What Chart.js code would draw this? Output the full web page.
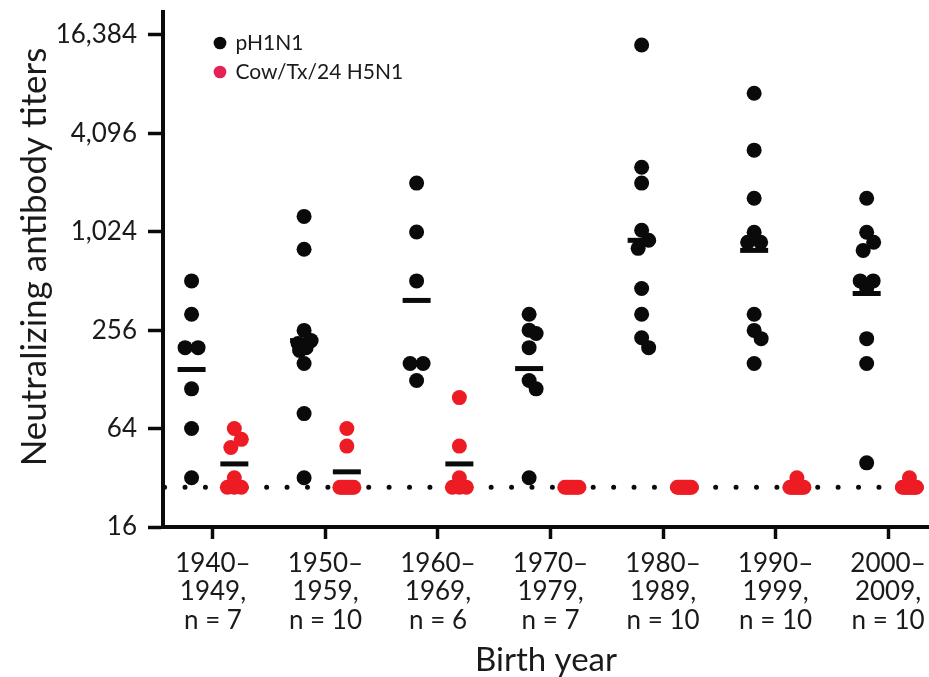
<!DOCTYPE html>
<html>
<head>
<meta charset="utf-8">
<script src="https://cdn.jsdelivr.net/npm/chart.js@4.4.1/dist/chart.umd.min.js"></script>
<style>
  html, body { margin: 0; padding: 0; background: #fff; }
  #wrap { width: 929px; height: 677px; }
</style>
</head>
<body>
<div id="wrap"><canvas id="titerChart"></canvas></div>
<script>
// birth-year cohorts, one entry per tick on the x axis
const cohortLabels = [
    ["1940–", "1949,", "n = 7"],
    ["1950–", "1959,", "n = 10"],
    ["1960–", "1969,", "n = 6"],
    ["1970–", "1979,", "n = 7"],
    ["1980–", "1989,", "n = 10"],
    ["1990–", "1999,", "n = 10"],
    ["2000–", "2009,", "n = 10"],
];
const yTicks = [16, 64, 256, 1024, 4096, 16384];
const detectionLimit = 28;

// individual neutralizing titers per cohort
const pH1N1Titers = [
    [512, 320, 200, 200, 112, 64, 32],
    [1270, 800, 255, 221, 212, 200, 192, 160, 79, 32],
    [2030, 1020, 512, 160, 160, 126],
    [320, 256, 244, 200, 126, 112, 32],
    [14200, 2540, 2030, 1045, 907, 810, 460, 320, 230, 200],
    [7200, 3230, 1640, 1016, 882, 882, 320, 255, 227, 160],
    [1640, 1016, 882, 787, 512, 512, 460, 227, 160, 39.5],
];
const h5N1Titers = [
    [64, 55, 49, 32, 28, 28, 28],
    [64, 50, 28, 28, 28, 28, 28, 28, 28, 28],
    [99, 50, 32, 28, 28, 28],
    [28, 28, 28, 28, 28, 28, 28],
    [28, 28, 28, 28, 28, 28, 28, 28, 28, 28],
    [32, 28, 28, 28, 28, 28, 28, 28, 28, 28],
    [32, 28, 28, 28, 28, 28, 28, 28, 28, 28],
];

// geometric mean titers (short black bars)
const pH1N1Gmt = [147, 221, 389, 149, 907, 787, 429];
const h5N1Gmt = [38.9, 34.8, 38.9, 28, 28, 28, 28];

const seriesNames = ["pH1N1", "Cow/Tx/24 H5N1"];
const seriesColors = ["#0a0a0a", "#ed1c24"];
const legendColors = ["#0a0a0a", "#e42354"];
const yAxisTitle = "Neutralizing antibody titers";

const X_MIN = -0.444;
const X_MAX = 6.364;
const SIDE_SHIFT = 0.19;   // each series sits either side of the cohort tick
const DOT_GAP = 13;        // px between neighbouring dot centres
const MAX_SPREAD = 7;      // px a dot may move sideways from its column
const INK = "#0a0a0a";
const TEXT = "#1a1a1a";
const FONT = "Lato, 'Noto Sans', sans-serif";

Chart.defaults.font.family = FONT;
Chart.defaults.color = TEXT;

// spread dots of similar value sideways so they do not sit on top of each other
function layoutSwarm(values, center, xScale, yScale) {
    const cx = xScale.getPixelForValue(center);
    const unit = xScale.getPixelForValue(center + 1) - cx;
    const placed = [];
    const rows = [...new Set(values)].sort((a, b) => b - a);
    rows.forEach((v) => {
        const count = values.filter((t) => t === v).length;
        const py = yScale.getPixelForValue(v);
        const step = count > 1 ? Math.min(DOT_GAP, (2 * MAX_SPREAD) / (count - 1)) : 0;
        const half = (step * (count - 1)) / 2;
        const room = Math.max(0, MAX_SPREAD - half);
        let best = 0;
        let bestScore = -1;
        for (let d = 0; d <= room; d += 0.5) {
            for (const c of d === 0 ? [0] : [d, -d]) {
                let score = Infinity;
                for (let j = 0; j < count; j++) {
                    const px = c - half + j * step;
                    placed.forEach((p) => {
                        score = Math.min(score, Math.hypot(px - p.dx, py - p.py));
                    });
                }
                if (score > bestScore + 0.01) {
                    best = c;
                    bestScore = score;
                }
            }
            if (bestScore >= DOT_GAP) break;
        }
        for (let j = 0; j < count; j++) {
            placed.push({ dx: best - half + j * step, py, v });
        }
    });
    return placed.map((p) => ({ x: center + p.dx / unit, y: p.v }));
}

function columnPoints(groups, side) {
    return groups.flatMap((vals, i) => vals.map((v) => ({ x: i + side, y: v })));
}

const gmtPoints = pH1N1Gmt
    .map((v, i) => ({ x: i - SIDE_SHIFT, y: v }))
    .concat(h5N1Gmt.map((v, i) => ({ x: i + SIDE_SHIFT, y: v })));

// the plot edges are fixed, so drop the room scales keep for edge labels
function noEdgePadding(scale) {
    scale.paddingTop = 0;
    scale.paddingBottom = 0;
    scale.paddingLeft = 0;
    scale.paddingRight = 0;
}

// move the legend inside the plot, near the top-left corner
const legendInset = {
    id: "legendInset",
    afterLayout(chart) {
        chart.legend.left += 44;
        chart.legend.top += 24.5;
    },
};

// rotated title for the y axis, sitting a little above the axis midpoint
const yTitle = {
    id: "yTitle",
    afterDraw(chart) {
        const c = chart.ctx;
        c.save();
        c.translate(46, 257);
        c.rotate(-Math.PI / 2);
        c.font = "35px " + FONT;
        c.fillStyle = TEXT;
        c.textAlign = "center";
        c.textBaseline = "alphabetic";
        c.fillText(yAxisTitle, 0, 0);
        c.restore();
    },
};

const ctx = document.getElementById("titerChart").getContext("2d");
const chart = new Chart(ctx, {
    type: "scatter",
    data: {
        datasets: [
            {
                label: seriesNames[0],
                data: columnPoints(pH1N1Titers, -SIDE_SHIFT),
                backgroundColor: seriesColors[0],
                borderWidth: 0,
                pointRadius: 7.5,
                pointStyle: "circle",
                order: 0,
            },
            {
                label: seriesNames[1],
                data: columnPoints(h5N1Titers, SIDE_SHIFT),
                backgroundColor: seriesColors[1],
                borderWidth: 0,
                pointRadius: 7.5,
                pointStyle: "circle",
                order: 1,
            },
            {
                label: "GMT",
                data: gmtPoints,
                pointStyle: "line",
                pointRadius: 14,
                borderColor: INK,
                pointBorderWidth: 5,
                order: 2,
            },
            {
                label: "Limit of detection",
                data: [
                    { x: X_MIN, y: detectionLimit },
                    { x: X_MAX, y: detectionLimit },
                ],
                showLine: true,
                pointRadius: 0,
                borderColor: INK,
                borderWidth: 5,
                borderDash: [0, 20.41],
                borderDashOffset: -1.6,
                borderCapStyle: "round",
                order: 3,
            },
        ],
    },
    options: {
        responsive: true,
        maintainAspectRatio: false,
        animation: false,
        events: [],
        layout: {
            autoPadding: false,
            padding: { top: 12, right: 0, bottom: 0, left: 0 },
        },
        plugins: {
            tooltip: { enabled: false },
            legend: {
                position: "chartArea",
                align: "start",
                labels: {
                    usePointStyle: true,
                    pointStyle: "circle",
                    boxWidth: 10,
                    boxHeight: 9,
                    padding: 8,
                    color: TEXT,
                    font: { size: 21 },
                    generateLabels: (c) =>
                        Chart.defaults.plugins.legend.labels
                            .generateLabels(c)
                            .filter((item) => item.datasetIndex < 2)
                            .map((item) => ({
                                ...item,
                                fillStyle: legendColors[item.datasetIndex],
                                lineWidth: 0,
                            })),
                },
            },
        },
        scales: {
            x: {
                type: "linear",
                min: X_MIN,
                max: X_MAX,
                afterBuildTicks: (scale) => {
                    scale.ticks = cohortLabels.map((_, i) => ({ value: i }));
                },
                afterFit: (scale) => {
                    scale.height = 150;
                    noEdgePadding(scale);
                },
                ticks: {
                    callback: (value) => cohortLabels[value],
                    autoSkip: false,
                    maxRotation: 0,
                    padding: 10,
                    color: TEXT,
                    font: { size: 26, lineHeight: 1.1 },
                },
                grid: {
                    drawOnChartArea: false,
                    tickLength: 12,
                    tickWidth: 3.5,
                    tickColor: INK,
                },
                border: { width: 4, color: INK },
                title: {
                    display: true,
                    text: "Birth year",
                    color: TEXT,
                    font: { size: 33, lineHeight: 1 },
                    padding: { top: 0, bottom: 0 },
                },
            },
            y: {
                type: "logarithmic",
                min: 16,
                max: 22600,
                bounds: "data",
                afterBuildTicks: (scale) => {
                    scale.ticks = yTicks.map((v) => ({ value: v }));
                },
                afterFit: (scale) => {
                    scale.width = 163;
                    noEdgePadding(scale);
                },
                ticks: {
                    callback: (value) => Number(value).toLocaleString("en-US"),
                    padding: 11,
                    color: TEXT,
                    font: { size: 26 },
                },
                grid: {
                    drawOnChartArea: false,
                    tickLength: 15,
                    tickWidth: 3.5,
                    tickColor: INK,
                },
                border: { width: 4, color: INK },
            },
        },
    },
    plugins: [legendInset, yTitle],
});

// once the scales exist, lay the dots out as swarms around each column
const xs = chart.scales.x;
const ys = chart.scales.y;
chart.data.datasets[0].data = pH1N1Titers.flatMap((vals, i) =>
    layoutSwarm(vals, i - SIDE_SHIFT, xs, ys)
);
chart.data.datasets[1].data = h5N1Titers.flatMap((vals, i) =>
    layoutSwarm(vals, i + SIDE_SHIFT, xs, ys)
);
chart.update("none");
</script>
</body>
</html>
